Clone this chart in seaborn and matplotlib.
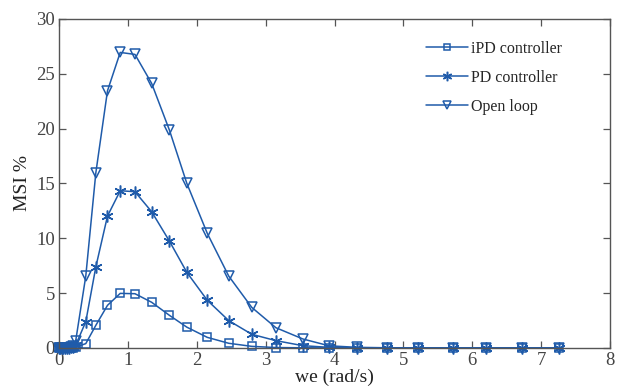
import matplotlib
matplotlib.use("Agg")
import matplotlib.pyplot as plt
import seaborn as sns
import numpy as np
import pandas as pd

# ---- data ----
we = [0.0, 0.02, 0.04, 0.06, 0.085, 0.11, 0.14, 0.17, 0.205,
      0.243, 0.389, 0.535, 0.704, 0.889, 1.103, 1.345, 1.603, 1.856,
      2.153, 2.464, 2.799, 3.149, 3.542, 3.921, 4.329, 4.767, 5.219,
      5.714, 6.195, 6.720, 7.259]

ipd = [0.0, 0.0, 0.0, 0.0, 0.0, 0.0, 0.01, 0.02, 0.03,
       0.08, 0.4, 2.07, 3.89, 4.98, 4.95, 4.17, 2.98, 1.9,
       0.97, 0.43, 0.15, 0.04, 0.02, 0.01, 0.0, 0.0, 0.0,
       0.0, 0.0, 0.0, 0.0]

pd_ctrl = [0.0, 0.0, 0.0, 0.0, 0.01, 0.02, 0.03, 0.05, 0.1,
           0.27, 2.4, 7.4, 12.03, 14.34, 14.25, 12.43, 9.75, 6.9,
           4.35, 2.5, 1.25, 0.67, 0.21, 0.06, 0.02, 0.0, 0.0,
           0.0, 0.0, 0.0, 0.0]

open_loop = [0.0, 0.0, 0.0, 0.0, 0.01, 0.02, 0.04, 0.08, 0.2,
             0.67, 6.56, 15.98, 23.45, 26.95, 26.77, 24.13, 19.87, 15.01,
             10.45, 6.56, 3.7, 1.85, 0.82, 0.2, 0.06, 0.02, 0.0,
             0.0, 0.0, 0.0, 0.0]

labels = ["iPD controller", "PD controller", "Open loop"]
series = [ipd, pd_ctrl, open_loop]
markers = ["s", (6, 2, 0), "v"]
msizes = [5.5, 8.5, 7]

sns.set_theme(style="ticks")
plt.rcParams["font.family"] = ["Liberation Serif", "DejaVu Serif"]

color = "#1F5BAA"
fig = plt.figure(figsize=(6.19, 3.89), dpi=100)
ax = fig.add_axes([0.0953, 0.1054, 0.8902, 0.8458])

for lab, vals, mk, ms in zip(labels, series, markers, msizes):
    df = pd.DataFrame({"we": we, "msi": vals})
    sns.lineplot(data=df, x="we", y="msi", ax=ax, color=color, lw=1.1,
                 marker=mk, markersize=ms, markerfacecolor="none",
                 markeredgecolor=color, markeredgewidth=1.1,
                 label=lab, sort=False, estimator=None, clip_on=False)

ax.set_xlim(0, 8)
ax.set_ylim(0, 30)
ax.set_xticks(range(0, 9))
ax.set_yticks(range(0, 31, 5))
for s in ax.spines.values():
    s.set_visible(True)
    s.set_color("#555555")
    s.set_linewidth(1.0)
ax.tick_params(direction="in", length=5, width=0.9, color="#555555",
               top=True, right=True, labelsize=13.5, labelcolor="#444444",
               pad=3)
ax.set_xlabel("we (rad/s)", fontsize=14, color="#222222", labelpad=0)
ax.set_ylabel("MSI %", fontsize=14, color="#222222", labelpad=4)

leg = ax.legend(loc="upper left", bbox_to_anchor=(0.666, 0.933), frameon=False,
                fontsize=11.5, handlelength=2.6, labelspacing=0.8,
                handletextpad=0.2, borderaxespad=0.0, borderpad=0.0)
for h in leg.legend_handles:
    h.set_markersize(h.get_markersize() * 0.8)

fig.savefig("out.png", dpi=100)
